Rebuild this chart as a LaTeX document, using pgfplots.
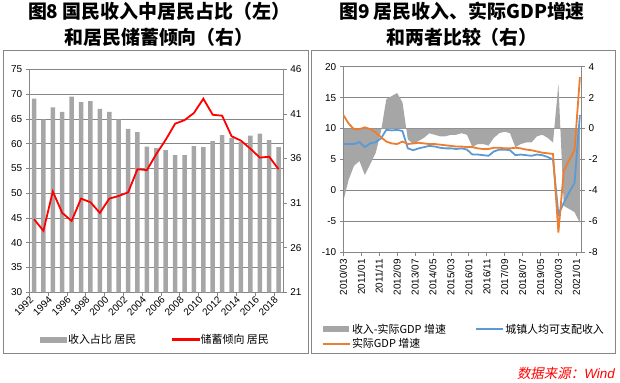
\documentclass[border=0pt]{standalone}
\usepackage{pgfplots}
\pgfplotsset{compat=1.18}
\usepackage{pgfplotstable}
\usepackage{fontspec}
\setmainfont{Liberation Sans}
\newfontfamily\cjk{Noto Sans CJK SC}
\newfontfamily\srcfont[FakeSlant=0.2]{Noto Sans CJK SC}
\definecolor{gridc}{RGB}{134,134,134}
\definecolor{barc}{RGB}{166,166,166}
\definecolor{bluec}{RGB}{91,155,213}
\definecolor{orangec}{RGB}{237,125,49}
\definecolor{lineredc}{RGB}{254,0,0}

\pgfplotstableread{
year share save
1992 69.1 29.2
1993 64.9 27.9
1994 67.3 32.3
1995 66.4 29.9
1996 69.5 29.0
1997 68.4 31.5
1998 68.6 31.1
1999 67.0 29.9
2000 66.4 31.5
2001 64.9 31.8
2002 63.0 32.2
2003 62.3 34.8
2004 59.4 34.7
2005 59.1 36.5
2006 58.7 38.1
2007 57.7 39.9
2008 57.7 40.3
2009 59.5 41.1
2010 59.3 42.7
2011 60.5 40.9
2012 61.7 40.8
2013 61.1 38.5
2014 60.3 38.0
2015 61.6 37.1
2016 62.0 36.1
2017 60.7 36.2
2018 59.3 34.8
}\lefttab

\pgfplotstableread{
m urban gdp
0 7.5 12.2
3 7.5 10.8
6 7.5 9.9
9 7.8 9.9
12 7.0 10.2
15 7.6 9.9
18 7.8 9.4
21 8.4 8.6
24 9.8 7.9
27 9.7 7.6
30 9.8 7.5
33 9.6 7.9
36 6.8 7.5
39 6.5 7.6
42 6.8 7.7
45 7.0 7.6
48 7.2 7.5
51 7.1 7.5
54 6.9 7.4
57 6.8 7.3
60 6.8 7.2
63 6.7 7.1
66 6.8 7.1
69 6.6 7.0
72 5.8 7.0
75 5.8 6.8
78 5.7 6.7
81 5.6 6.7
84 6.3 6.9
87 6.6 6.9
90 6.6 6.8
93 6.5 6.8
96 5.7 6.9
99 5.8 6.8
102 5.7 6.6
105 5.6 6.5
108 5.8 6.3
111 5.7 6.1
114 5.4 6.0
117 5.0 5.9
120 -3.9 -6.8
123 -2.0 3.2
126 -0.3 4.9
129 1.2 6.5
132 12.2 18.3
}\righttab

\pgfplotstableread{
m diff
0 0
0 -4.7
3 -3.3
6 -2.4
9 -2.1
12 -3.0
15 -2.3
18 -1.6
21 -0.2
24 1.9
27 2.1
30 2.3
33 1.7
36 -0.7
39 -1.0
42 -0.8
45 -0.6
48 -0.3
51 -0.4
54 -0.5
57 -0.5
60 -0.4
63 -0.4
66 -0.3
69 -0.4
72 -1.2
75 -1.0
78 -1.0
81 -1.1
84 -0.6
87 -0.3
90 -0.2
93 -0.3
96 -1.2
99 -1.0
102 -0.9
105 -0.9
108 -0.5
111 -0.4
114 -0.6
117 -0.9
120 2.9
123 -5.0
126 -5.2
129 -5.4
132 -6.1
132 0
}\areatab

\pgfplotsset{
  base/.style={scale only axis, anchor=south west,
    axis line style={draw=gridc, line width=0.7bp},
    every tick/.style={draw=gridc, line width=0.7bp},
    major tick length=3.5bp, tick align=outside,
    tick label style={font=\fontsize{10}{12}\selectfont},
    /pgf/number format/assume math mode=true,
    grid style={draw=gridc, line width=0.7bp},
    legend style={draw=none, fill=none, inner sep=0pt, outer sep=0pt,
      font=\cjk\fontsize{11}{13}\selectfont,
      nodes={inner sep=1.5bp}},
    legend cell align=left,
  },
}

\begin{document}
\begin{tikzpicture}
\useasboundingbox (0,0) rectangle (620bp,383bp);
% frames
\draw[gridc, line width=0.8bp] (3.3bp,29.7bp) rectangle (308.3bp,332.3bp);
\draw[gridc, line width=0.8bp] (311bp,29.7bp) rectangle (615.5bp,332.3bp);
% titles
\node[font=\cjk\bfseries\fontsize{19}{26.5}\selectfont, align=center] at (159bp,358.8bp) {图8 国民收入中居民占比（左）\\和居民储蓄倾向（右）};
\node[font=\cjk\bfseries\fontsize{19}{26.5}\selectfont, align=center] at (462bp,358.8bp) {图9 居民收入、实际GDP增速\\和两者比较（右）};
% source
\node[anchor=east, text=red, inner sep=0pt, font=\fontsize{13.5}{15}\selectfont] at (615bp,10bp) {{\srcfont 数据来源：}{\itshape Wind}};

% ---------- left chart ----------
\begin{axis}[base, at={(29.3bp,90.7bp)}, width=254bp, height=223bp,
  xmin=1991.5, xmax=2018.5, ymin=30, ymax=75, ytick={30,35,...,75},
  axis y line*=left, axis x line*=bottom, ymajorgrids,
  xtick={1991.5,1993.5,...,2017.5},
  xticklabels={1992,1994,1996,1998,2000,2002,2004,2006,2008,2010,2012,2014,2016,2018},
  x tick label style={xshift=4.7bp, rotate=45, anchor=east},
  legend columns=2,
  legend style={at={(0.042,-0.2117)}, anchor=west,
    /tikz/every even column/.append style={column sep=34bp}},
  ]
\addplot[ybar, bar width=4.5bp, fill=barc, draw=none,
  legend image code/.code={\fill[barc] (0bp,-3bp) rectangle (26.6bp,3bp);}]
  table[x=year, y=share] {\lefttab};
\addlegendentry{收入占比 居民}
\addlegendimage{legend image code/.code={\color{lineredc}\fill[color=lineredc, fill=lineredc] (0bp,-0.9bp) rectangle (27bp,0.9bp);}}
\addlegendentry{储蓄倾向 居民}
\end{axis}
\begin{axis}[base, at={(29.3bp,90.7bp)}, width=254bp, height=223bp,
  xmin=1991.5, xmax=2018.5, ymin=21, ymax=46, ytick={21,26,...,46},
  axis y line*=right, axis x line=none,
  ]
\addplot[draw=lineredc, line width=1.8bp] table[x=year, y=save] {\lefttab};
\end{axis}

% ---------- right chart ----------
\begin{axis}[base, at={(343.3bp,130.7bp)}, width=238.4bp, height=185.6bp,
  xmin=0, xmax=133, ymin=-8, ymax=4, ytick={-8,-6,...,4},
  axis y line*=right, axis x line*=bottom, ymajorgrids,
  xtick={0,10,...,130},
  xticklabels={2010/03,2011/01,2011/11,2012/09,2013/07,2014/05,2015/03,2016/01,2016/11,2017/09,2018/07,2019/05,2020/03,2021/01},
  x tick label style={rotate=90, anchor=east},
  legend style={at={(-0.0906,-0.3772)}, anchor=north west, row sep=0.7bp},
  ]
\addplot[fill=barc, draw=none,
  legend image code/.code={\fill[barc] (0bp,-3bp) rectangle (26.6bp,3bp);}]
  table[x=m, y=diff] {\areatab} -- cycle;
\addlegendentry{收入-实际GDP 增速}
\addlegendimage{legend image code/.code={\draw[draw=orangec, line width=1.8bp] (0bp,0bp) -- (27bp,0bp);}}
\addlegendentry{实际GDP 增速}
\end{axis}
\begin{axis}[base, at={(343.3bp,130.7bp)}, width=238.4bp, height=185.6bp,
  xmin=0, xmax=133, ymin=-10, ymax=20, ytick={-10,-5,...,20},
  axis y line*=left, axis x line=none,
  legend style={at={(0.5524,-0.3772)}, anchor=north west},
  ]
\addplot[draw=bluec, line width=1.8bp,
  legend image code/.code={\draw[draw=bluec, line width=1.8bp] (0bp,0bp) -- (27bp,0bp);}]
  table[x=m, y=urban] {\righttab};
\addlegendentry{城镇人均可支配收入}
\addplot[draw=orangec, line width=1.8bp, forget plot] table[x=m, y=gdp] {\righttab};
\end{axis}
\end{tikzpicture}
\end{document}
